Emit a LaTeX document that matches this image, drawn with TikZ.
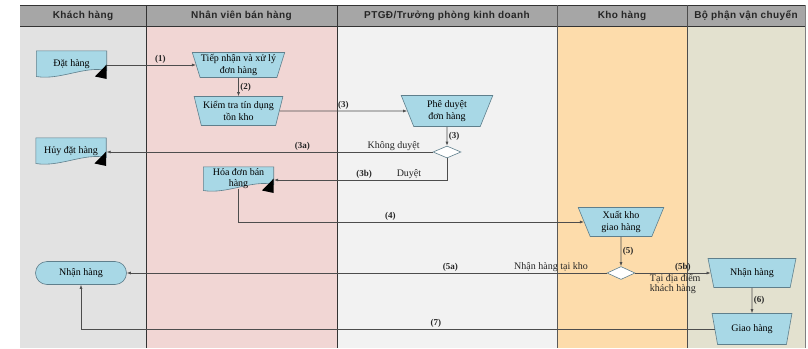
\documentclass[tikz,border=0pt]{standalone}
\usepackage{fontspec}
\setmainfont{Liberation Serif}
\newfontfamily\headfont[LetterSpace=4]{Liberation Sans}
\usepackage{xcolor}
\usepackage{tikz}
\usetikzlibrary{shapes.geometric, positioning, arrows.meta}

\definecolor{laneKH}{HTML}{E2E2E2}
\definecolor{laneNV}{HTML}{F1D6D4}
\definecolor{lanePT}{HTML}{F2F2F2}
\definecolor{laneKho}{HTML}{FDDCAB}
\definecolor{laneVC}{HTML}{E3E1CF}
\definecolor{headgray}{HTML}{A6A6A6}
\definecolor{shapeblue}{HTML}{A8D8E6}
\definecolor{shapeline}{HTML}{5F7F8C}
\definecolor{flowgray}{HTML}{4D4D4D}

\begin{document}
\begin{tikzpicture}[x=1pt, y=-1pt, node distance=40pt, on grid, auto,
    sep/.style={draw=black!80, line width=0.8pt},
    head/.style={font=\headfont\bfseries\fontsize{10}{12}\selectfont, text=black!85},
    txt/.style={font=\fontsize{10}{11.5}\selectfont, text=black!85, inner sep=1pt},
    lbl/.style={font=\bfseries\fontsize{9}{11}\selectfont, text=black!85, inner sep=1.5pt},
    manual/.style={trapezium, trapezium angle=110, trapezium stretches=true,
        fill=shapeblue, draw=shapeline, line width=0.6pt, inner sep=0pt,
        align=center, font=\fontsize{10}{11.5}\selectfont},
    decision/.style={diamond, fill=white, draw=shapeline, line width=0.6pt,
        minimum width=28pt, minimum height=12pt, inner sep=0pt},
    terminal/.style={rectangle, rounded corners=11.5pt, fill=shapeblue, draw=shapeline,
        line width=0.6pt, minimum width=91pt, minimum height=23pt,
        font=\fontsize{10}{11.5}\selectfont},
    doc/.style={minimum width=71pt, minimum height=29pt, inner sep=0pt, align=center,
        text depth=4.5pt, font=\fontsize{10}{11.5}\selectfont,
        path picture={
          \filldraw[fill=shapeblue, draw=shapeline, line width=0.6pt]
            ([shift={(0.3pt,-0.3pt)}]path picture bounding box.north west)
            -- ([shift={(-0.3pt,-0.3pt)}]path picture bounding box.north east)
            -- ([shift={(-0.3pt,9pt)}]path picture bounding box.south east)
            .. controls ([shift={(-22pt,14pt)}]path picture bounding box.south east)
               and ([shift={(24pt,-1pt)}]path picture bounding box.south west)
            .. ([shift={(0.3pt,3pt)}]path picture bounding box.south west)
            -- cycle;
          \fill[black]
            ([shift={(-12pt,3pt)}]path picture bounding box.south east)
            -- ([shift={(-0.3pt,15pt)}]path picture bounding box.south east)
            -- ([shift={(-0.3pt,0.5pt)}]path picture bounding box.south east)
            -- cycle;
        }},
    flow/.style={draw=flowgray, line width=0.6pt, -{Latex[length=4pt,width=3pt]}}]

  \useasboundingbox (0,0) rectangle (808,348);

  % swimlanes
  \fill[laneKH]  (20,26) rectangle (146,348);
  \fill[laneNV]  (146,26) rectangle (337,348);
  \fill[lanePT]  (337,26) rectangle (557,348);
  \fill[laneKho] (557,26) rectangle (687,348);
  \fill[laneVC]  (687,26) rectangle (805,348);
  \fill[headgray] (20,5) rectangle (805,26);
  \draw[sep] (20,5) -- (805,5);
  \draw[sep] (20,26) -- (805,26);
  \draw[sep] (146,5) -- (146,348);
  \draw[sep] (337,5) -- (337,348);
  \draw[sep, draw=black!65] (557,5) -- (557,348);
  \draw[sep, draw=black!70] (687,5) -- (687,348);
  \draw[sep, draw=black!50] (805,5) -- (805,348);

  \node[head] (hKH)  at (83,15.5)  {Khách hàng};
  \node[head] (hNV)  at (241.5,15.5) {Nhân viên bán hàng};
  \node[head] (hPT)  at (447,15.5) {PTGĐ/Trưởng phòng kinh doanh};
  \node[head] (hKho) at (622,15.5) {Kho hàng};
  \node[head] (hVC)  at (746,15.5) {Bộ phận vận chuyển};

  % steps
  \node[manual, minimum width=93pt, minimum height=25pt] (tiep) at (238.5,65)
    {Tiếp nhận và xử lý\\đơn hàng};
  \node[doc] (dat) [left=167pt of tiep] {Đặt hàng};
  \node[manual, minimum width=89pt, minimum height=29pt] (kiem) [below=46pt of tiep]
    {Kiểm tra tín dụng\\tồn kho};
  \node[manual, minimum width=92pt, minimum height=31pt] (phe) [right=208.5pt of kiem]
    {Phê duyệt\\đơn hàng};
  \node[decision] (d1) [below=41pt of phe] {};
  \node[doc] (huy) [left=376pt of d1] {Hủy đặt hàng};
  \node[doc, minimum height=27pt] (hoa) [below=69pt of kiem] {Hóa đơn bán\\hàng};
  \node[manual, minimum width=86pt, minimum height=29pt] (xuat) at (621,222)
    {Xuất kho\\giao hàng};
  \node[decision, minimum height=13pt] (d2) [below=51pt of xuat] {};
  \node[terminal] (nhan1) [left=540pt of d2] {Nhận hàng};
  \node[manual, minimum width=88pt, minimum height=29pt] (nhan2) [right=131pt of d2]
    {Nhận hàng};
  \node[manual, minimum width=80pt, minimum height=31pt] (giao) [below=56pt of nhan2]
    {Giao hàng};

  % connectors
  \draw[flow] (dat.east) -- (dat.east -| tiep.west) node[lbl, pos=0.6, above] {(1)};
  \draw[flow] (tiep.south) -- (kiem.north) node[lbl, midway, right] {(2)};
  \draw[flow] (kiem.east) -- (phe.west) node[lbl, pos=0.5, above] {(3)};
  \draw[flow] (phe.south) -- (d1.north) node[lbl, midway, right] {(3)};
  \draw[flow] (d1.west) -- (huy.east)
    node[txt, pos=0.12, above] {Không duyệt}
    node[lbl, pos=0.4, above] {(3a)};
  \draw[flow] (d1.south) |- (hoa.east)
    node[txt, pos=0.61, above] {Duyệt}
    node[lbl, pos=0.74, above] {(3b)};
  \draw[flow] ([yshift=5pt]hoa.south) |- (xuat.west) node[lbl, pos=0.72, above] {(4)};
  \draw[flow] (xuat.south) -- (d2.north) node[lbl, midway, right] {(5)};
  \draw[flow] (d2.west) -- (nhan1.east)
    node[txt, pos=0.116, above] {Nhận hàng tại kho}
    node[lbl, pos=0.326, above] {(5a)};
  \draw[flow] (d2.east) -- (nhan2.west)
    node[lbl, pos=0.63, above] {(5b)}
    node[txt, pos=0.53, below, align=left, font=\fontsize{10}{10}\selectfont] {Tại địa điểm\\khách hàng};
  \draw[flow] (nhan2.south) -- (giao.north) node[lbl, midway, right] {(6)};
  \draw[flow] (giao.west) -| (nhan1.south) node[lbl, pos=0.22, above] {(7)};
\end{tikzpicture}
\end{document}
